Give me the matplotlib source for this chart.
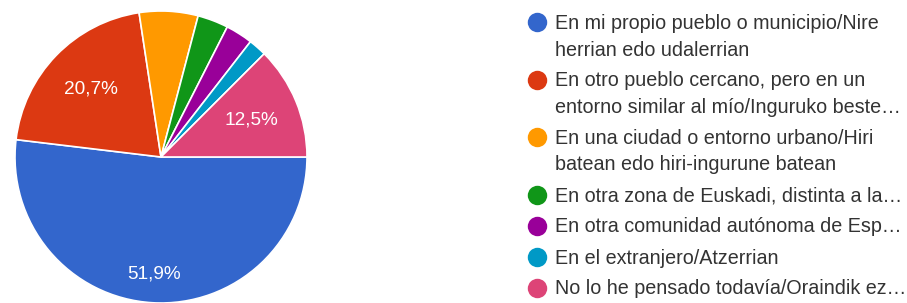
import matplotlib.pyplot as plt
import numpy as np

plt.rcParams['font.family'] = ['Liberation Sans', 'DejaVu Sans']

# data
labels = [
    'En mi propio pueblo o municipio/Nire\nherrian edo udalerrian',
    'En otro pueblo cercano, pero en un\nentorno similar al mío/Inguruko beste…',
    'En una ciudad o entorno urbano/Hiri\nbatean edo hiri-ingurune batean',
    'En otra zona de Euskadi, distinta a la…',
    'En otra comunidad autónoma de Esp…',
    'En el extranjero/Atzerrian',
    'No lo he pensado todavía/Oraindik ez…',
]
shares = [51.9, 20.7, 6.5, 3.4, 3.0, 2.0, 12.5]
colors = ['#3366cc', '#dc3912', '#ff9900', '#109618', '#990099', '#0099c6', '#dd4477']

W, H = 907, 303
fig = plt.figure(figsize=(W / 100, H / 100), dpi=100)

# pie
cx, cy, r = 161, 157, 146
ax = fig.add_axes([(cx - r) / W, (H - cy - r) / H, 2 * r / W, 2 * r / H])
wedges, _ = ax.pie(shares, colors=colors, startangle=0, counterclock=False,
                   wedgeprops=dict(edgecolor='white', linewidth=1.2))
ax.set_xlim(-1, 1)
ax.set_ylim(-1, 1)
ax.set_aspect('equal')
ax.axis('off')

for w, v in zip(wedges, shares):
    if v < 10:
        continue
    mid = np.deg2rad((w.theta1 + w.theta2) / 2)
    d = 0.8 if v > 50 else 0.67
    ax.text(d * np.cos(mid), d * np.sin(mid), f'{v:.1f}%'.replace('.', ','),
            ha='center', va='center', color='white', fontsize=13.7)

# legend
lg = fig.add_axes([0, 0, 1, 1])
lg.set_xlim(0, W)
lg.set_ylim(H, 0)
lg.axis('off')
y = 22
for lab, c in zip(labels, colors):
    lines = lab.split('\n')
    lg.plot(537, y, 'o', ms=14, color=c, mec='none')
    for i, line in enumerate(lines):
        lg.text(555, y + 7 + i * 26.5, line, ha='left', va='baseline',
                fontsize=14.2, color='#333333')
    y += (len(lines) - 1) * 26.5 + 31

fig.savefig('out.png', dpi=100, facecolor='white')
